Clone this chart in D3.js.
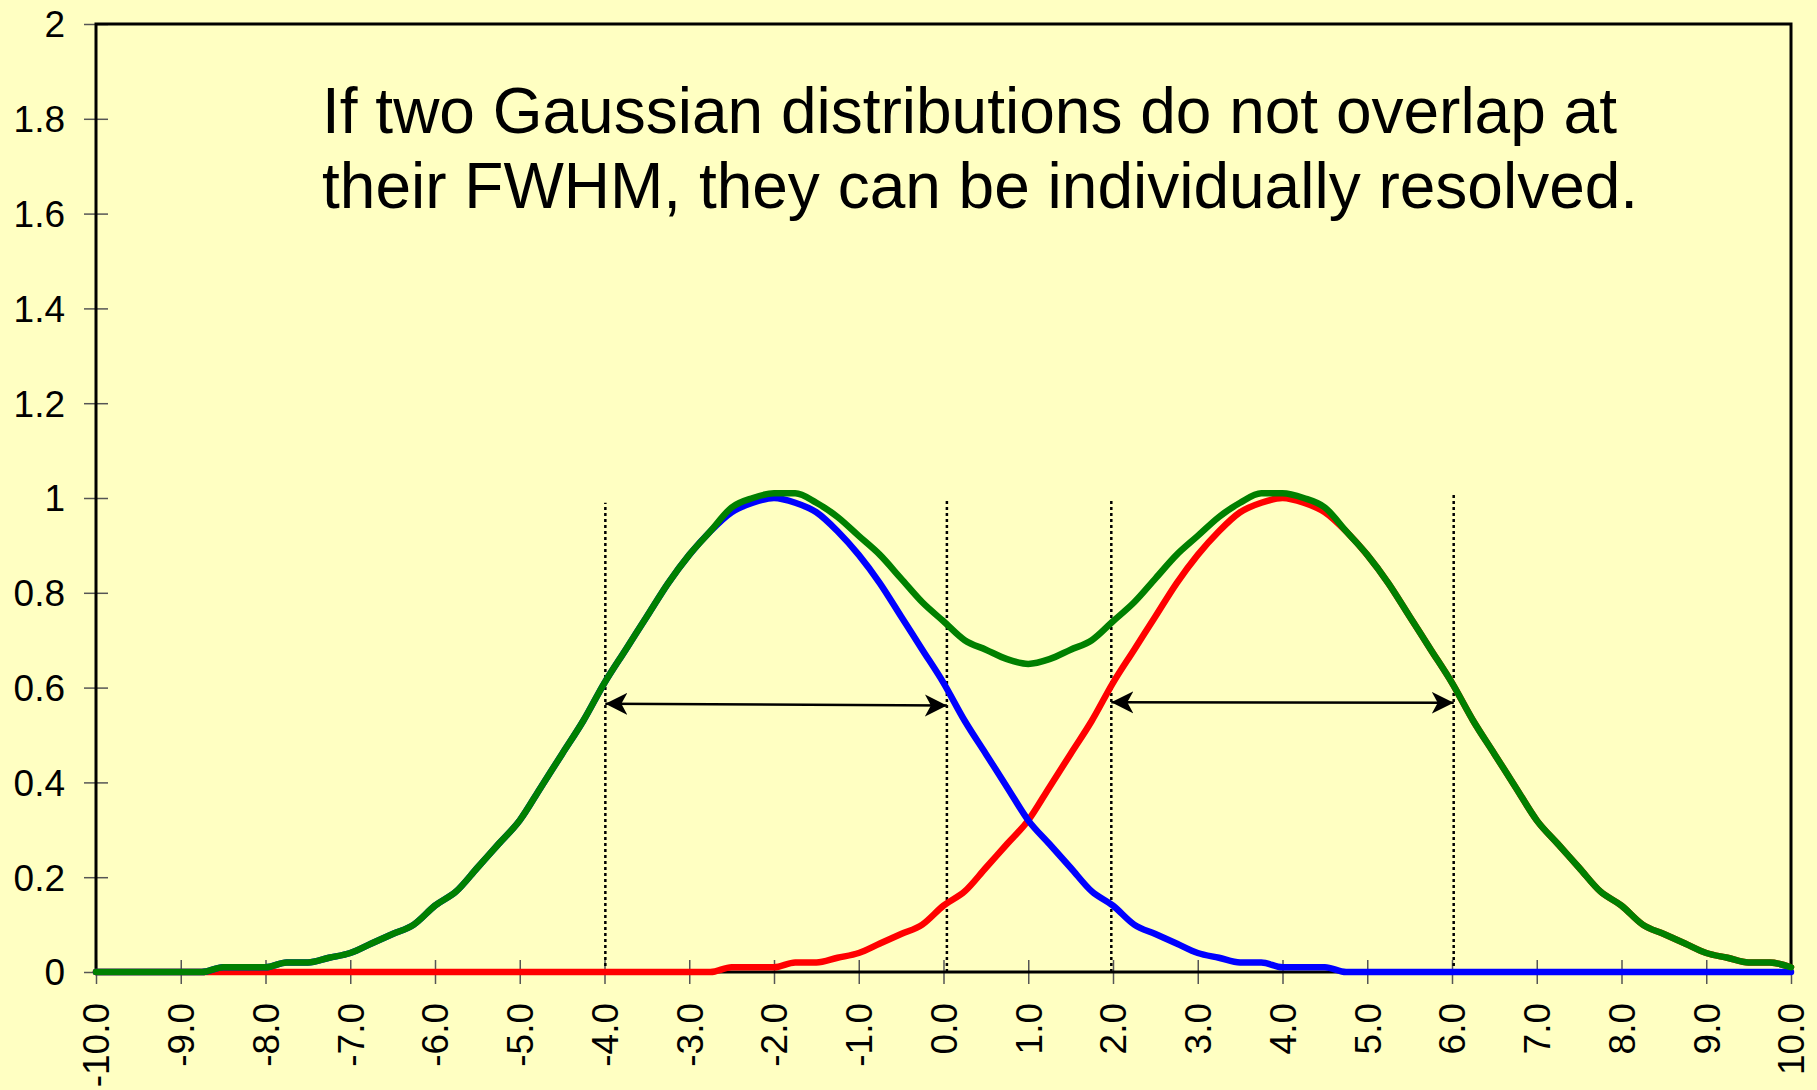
<!DOCTYPE html>
<html>
<head>
<meta charset="utf-8">
<script src="https://cdn.jsdelivr.net/npm/d3@7/dist/d3.min.js"></script>
<style>
    html, body { margin: 0; padding: 0; background: #FFFFC2; }
    svg { display: block; }
    .axis-label { font-family: "Liberation Sans", Arial, sans-serif; font-size: 37px; fill: #000; }
    .title { font-family: "Liberation Sans", Arial, sans-serif; font-size: 64px; fill: #000; }
</style>
</head>
<body>
<svg id="chart" width="1817" height="1090"></svg>
<script>
// x positions of the samples, -10 .. 10 step 0.25
var xs = d3.range(81).map(function (i) { return -10 + i * 0.25 });

// blue: peak at -2
var blueVals = [
    0, 0, 0, 0, 0, 0, 0.01, 0.01, 0.01, 0.02, 0.02, 0.03, 0.04, 0.06, 0.08, 0.10,
    0.14, 0.17, 0.22, 0.27, 0.32, 0.39, 0.46, 0.53, 0.61, 0.68, 0.75, 0.82, 0.88, 0.93,
    0.97, 0.99, 1.00,
    0.99, 0.97, 0.93, 0.88, 0.82, 0.75, 0.68, 0.61, 0.53, 0.46, 0.39, 0.32, 0.27, 0.22,
    0.17, 0.14, 0.10, 0.08, 0.06, 0.04, 0.03, 0.02, 0.02, 0.01, 0.01, 0.01,
    0, 0, 0, 0, 0, 0, 0, 0, 0, 0, 0, 0, 0, 0, 0, 0, 0, 0, 0, 0, 0, 0
];

// red: peak at 4
var redVals = [
    0, 0, 0, 0, 0, 0, 0, 0, 0, 0, 0, 0, 0, 0, 0, 0, 0, 0, 0, 0, 0, 0, 0, 0, 0, 0, 0, 0, 0, 0,
    0.01, 0.01, 0.01, 0.02, 0.02, 0.03, 0.04, 0.06, 0.08, 0.10,
    0.14, 0.17, 0.22, 0.27, 0.32, 0.39, 0.46, 0.53, 0.61, 0.68, 0.75, 0.82, 0.88, 0.93,
    0.97, 0.99, 1.00,
    0.99, 0.97, 0.93, 0.88, 0.82, 0.75, 0.68, 0.61, 0.53, 0.46, 0.39, 0.32, 0.27, 0.22,
    0.17, 0.14, 0.10, 0.08, 0.06, 0.04, 0.03, 0.02, 0.02, 0.01
];

// green: both together
var greenVals = [
    0, 0, 0, 0, 0, 0, 0.01, 0.01, 0.01, 0.02, 0.02, 0.03, 0.04, 0.06, 0.08, 0.10,
    0.14, 0.17, 0.22, 0.27, 0.32, 0.39, 0.46, 0.53, 0.61, 0.68, 0.75, 0.82, 0.88, 0.93,
    0.98, 1.00, 1.01, 1.01, 0.99, 0.96, 0.92, 0.88, 0.83, 0.78,
    0.74, 0.70, 0.68, 0.66, 0.65, 0.66, 0.68, 0.70, 0.74, 0.78, 0.83, 0.88, 0.92, 0.96,
    0.99, 1.01, 1.01, 1.00, 0.98, 0.93, 0.88, 0.82, 0.75, 0.68, 0.61, 0.53, 0.46, 0.39,
    0.32, 0.27, 0.22, 0.17, 0.14, 0.10, 0.08, 0.06, 0.04, 0.03, 0.02, 0.02, 0.01
];

// FWHM marker lines and the arrows between them
var fwhmX = [-3.99, 0.04, 1.98, 6.02];
var fwhmTop = [0.99, 1.0, 1.0, 1.01];
var arrowFrom = [[-3.99, 0.566], [1.98, 0.569]];
var arrowTo = [[0.04, 0.562], [6.02, 0.568]];

var xTicks = d3.range(-10, 10.5, 1);
var yTicks = d3.range(0, 2.01, 0.2);

var titleLines = [
    "If two Gaussian distributions do not overlap at",
    "their FWHM, they can be individually resolved."
];

var svg = d3.select("#chart");
var margin = {top: 24, right: 26, bottom: 118, left: 96};
var width = 1817 - margin.left - margin.right;
var height = 1090 - margin.top - margin.bottom;

var g = svg.append("g")
           .attr("transform", "translate(" + margin.left + "," + margin.top + ")");

var x = d3.scaleLinear().domain([-10, 10]).range([0, width]);
var y = d3.scaleLinear().domain([0, 2]).range([height, 0]);

// arrow head
svg.append("defs").append("marker")
   .attr("id", "head")
   .attr("markerUnits", "userSpaceOnUse")
   .attr("viewBox", "-22 -12 24 24")
   .attr("markerWidth", 24)
   .attr("markerHeight", 24)
   .attr("refX", 0)
   .attr("refY", 0)
   .attr("orient", "auto-start-reverse")
   .append("path")
   .attr("d", "M0,0 L-22,-11 L-16,0 L-22,11 Z")
   .attr("fill", "#000");

// ticks (crossing the axes)
var yAxis = g.append("g")
             .call(d3.axisLeft(y).tickValues(yTicks).tickSize(12).tickFormat(""));
yAxis.selectAll(".tick line").attr("x2", 12).attr("x1", -12).attr("stroke", "#555").attr("stroke-width", 1.5);
yAxis.select(".domain").remove();

var xAxis = g.append("g")
             .attr("transform", "translate(0," + height + ")")
             .call(d3.axisBottom(x).tickValues(xTicks).tickSize(12).tickFormat(""));
xAxis.selectAll(".tick line").attr("y1", -12).attr("y2", 12).attr("stroke", "#555").attr("stroke-width", 1.5);
xAxis.select(".domain").remove();

// frame
g.append("rect")
 .attr("x", 0).attr("y", 0)
 .attr("width", width).attr("height", height)
 .attr("fill", "none")
 .attr("stroke", "#000")
 .attr("stroke-width", 3);

// tick labels
g.selectAll(".ylab")
 .data(yTicks)
 .enter()
 .append("text")
 .attr("class", "axis-label")
 .attr("text-anchor", "end")
 .attr("x", -31)
 .attr("y", function (d) { return y(d) })
 .attr("dy", "0.36em")
 .text(function (d) { return d3.format("~g")(+d.toFixed(1)) });

g.selectAll(".xlab")
 .data(xTicks)
 .enter()
 .append("text")
 .attr("class", "axis-label")
 .attr("text-anchor", "end")
 .attr("transform", function (d) {
     return "translate(" + x(d) + "," + (height + 31) + ") rotate(-90)";
 })
 .attr("dy", "0.36em")
 .text(function (d) { return d.toFixed(1) });

// dotted FWHM lines
g.selectAll(".fwhm")
 .data(fwhmX)
 .enter()
 .append("line")
 .attr("x1", function (d) { return x(d) })
 .attr("x2", function (d) { return x(d) })
 .attr("y1", y(0))
 .attr("y2", function (d, i) { return y(fwhmTop[i]) })
 .attr("stroke", "#000")
 .attr("stroke-width", 2.5)
 .attr("stroke-dasharray", "3,3");

// curves: red, blue, then green on top
var line = d3.line()
             .curve(d3.curveMonotoneX)
             .x(function (d) { return x(d[0]) })
             .y(function (d) { return y(d[1]) });

[[redVals, "#FF0000"], [blueVals, "#0000FF"], [greenVals, "#008000"]].forEach(function (s) {
    g.append("path")
     .datum(xs.map(function (xv, i) { return [xv, s[0][i]] }))
     .attr("d", line)
     .attr("fill", "none")
     .attr("stroke", s[1])
     .attr("stroke-width", 6.5)
     .attr("stroke-linejoin", "round")
     .attr("stroke-linecap", "round");
});

// double arrows
arrowFrom.forEach(function (a, i) {
    var b = arrowTo[i];
    g.append("line")
     .attr("x1", x(a[0])).attr("y1", y(a[1]))
     .attr("x2", x(b[0])).attr("y2", y(b[1]))
     .attr("stroke", "#000")
     .attr("stroke-width", 2.5)
     .attr("marker-start", "url(#head)")
     .attr("marker-end", "url(#head)");
});

// title
svg.selectAll(".title")
   .data(titleLines)
   .enter()
   .append("text")
   .attr("class", "title")
   .attr("x", 322)
   .attr("y", function (d, i) { return 133 + i * 75 })
   .text(function (d) { return d });
</script>
</body>
</html>
